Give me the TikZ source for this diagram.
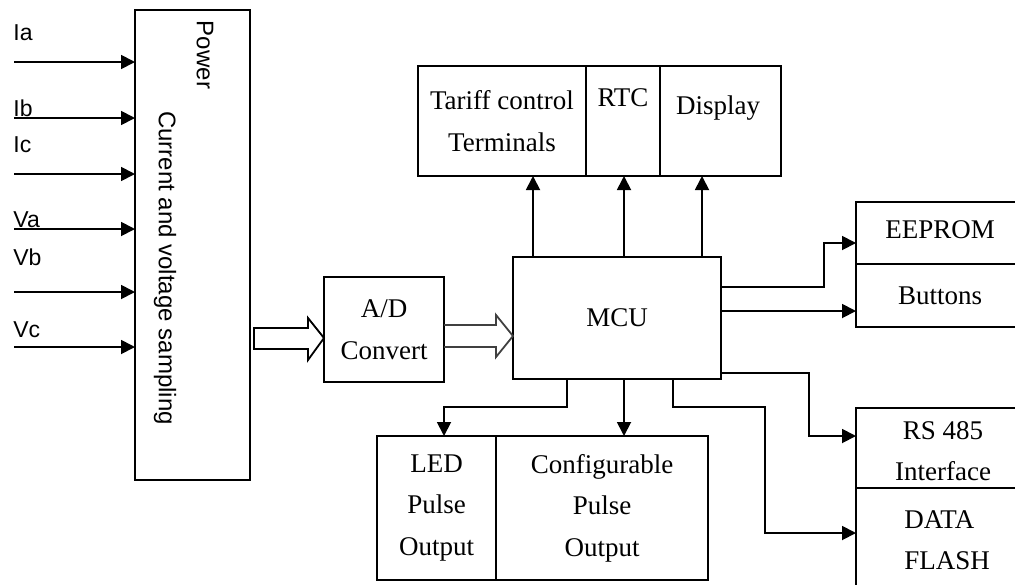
\documentclass[tikz,border=0pt]{standalone}
\usepackage{fontspec}
\setmainfont{Liberation Serif}
\newfontfamily\sansf{Liberation Sans}
\usetikzlibrary{arrows.meta}
\begin{document}
\begin{tikzpicture}[x=0.5pt,y=-0.5pt,>={Triangle[length=7pt,width=7pt]},line join=miter,
    blk/.style={draw,line width=1pt,inner sep=0pt,outer sep=0pt},
    txt/.style={font=\fontsize{13.5}{20.75}\selectfont,align=center,inner sep=0pt},
    sf/.style={font=\sansf\fontsize{11.5}{14}\selectfont,inner sep=0pt},
    wire/.style={line width=0.9pt}]
    \clip (0,0) rectangle (1015,584);
    % sampling block and inputs
    \node[blk,minimum width=57.5pt,minimum height=235pt] (power) at (192.5,245) {};
    \node[sf,font=\sansf\fontsize{12}{14}\selectfont,rotate=-90] (pwr) at (205,55) {Power};
    \node[sf,font=\sansf\fontsize{12}{14}\selectfont,rotate=-90] (cvs) at (165,268) {Current and voltage sampling};
    \foreach \y in {62,118,174,229,292,347}
        \draw[wire,->] (14,\y)--(power.west |- 0,\y);
    \foreach \t/\y in {Ia/33,Ib/108,Ic/145,Va/220,Vb/257,Vc/330}
        \node[sf,anchor=west] (in\t) at (13,\y) {\t};
    % converter and mcu
    \node[blk,txt,minimum width=60pt,minimum height=52.5pt] (ad) at (384,329.5) {A/D\\Convert};
    \node[blk,txt,minimum width=104pt,minimum height=61pt] (mcu) at (617,318) {MCU};
    \draw[wire] (254,328)--(308,328)--(308,318)--(ad.west |- 0,338)--(308,360)--(308,349)--(254,349)--cycle;
    \draw[wire,black!75] (ad.east |- 0,325)--(496,325)--(496,315)--(mcu.west |- 0,336)--(496,357)--(496,347)--(ad.east |- 0,347);
    % top row
    \node[blk,txt,minimum width=84pt,minimum height=55pt] (tariff) at (502,121) {Tariff control\\Terminals};
    \node[blk,minimum width=37pt,minimum height=55pt,anchor=west] (rtc) at (tariff.east) {};
    \node[blk,minimum width=60.5pt,minimum height=55pt,anchor=west] (disp) at (rtc.east) {};
    \node[txt] (rtc-t) at (623,98) {RTC};
    \node[txt] (disp-t) at (718,108) {Display};
    \draw[wire,->] (mcu.north -| 533,0)--(tariff.south -| 533,0);
    \draw[wire,->] (mcu.north -| 624,0)--(rtc.south -| 624,0);
    \draw[wire,->] (mcu.north -| 702,0)--(disp.south -| 702,0);
    % right column
    \node[blk,anchor=north west,minimum width=120pt,minimum height=31pt] (eeprom) at (856,202) {};
    \node[blk,anchor=north west,minimum width=120pt,minimum height=31.5pt] (buttons) at (856,264) {};
    \node[blk,anchor=north west,minimum width=120pt,minimum height=40pt] (rs) at (856,408) {};
    \node[blk,anchor=north west,minimum width=120pt,minimum height=60pt] (flash) at (856,488) {};
    \node[txt] (eeprom-t) at (940,230) {EEPROM};
    \node[txt] (buttons-t) at (940,296) {Buttons};
    \node[txt] (rs-t) at (943,451) {RS 485\\Interface};
    \node[txt,align=left,anchor=west] (flash-t) at (904,540) {DATA\\FLASH};
    \draw[wire,->] (mcu.east |- 0,287)--(824,287) |- (eeprom.west |- 0,243);
    \draw[wire,->] (mcu.east |- 0,311)--(buttons.west |- 0,311);
    \draw[wire,->] (mcu.east |- 0,373)--(809,373) |- (rs.west |- 0,436);
    \draw[wire,->] (mcu.south -| 673,0) |- (765,407) |- (flash.west |- 0,533);
    % pulse outputs
    \node[blk,txt,minimum width=59.5pt,minimum height=72pt] (led) at (436.5,508) {LED\\Pulse\\Output};
    \node[blk,txt,minimum width=106pt,minimum height=72pt,anchor=west] (cfg) at (led.east) {Configurable\\Pulse\\Output};
    \draw[wire,->] (mcu.south -| 567,0) |- (444,407)--(led.north -| 444,0);
    \draw[wire,->] (mcu.south -| 624,0)--(cfg.north -| 624,0);
\end{tikzpicture}
\end{document}
